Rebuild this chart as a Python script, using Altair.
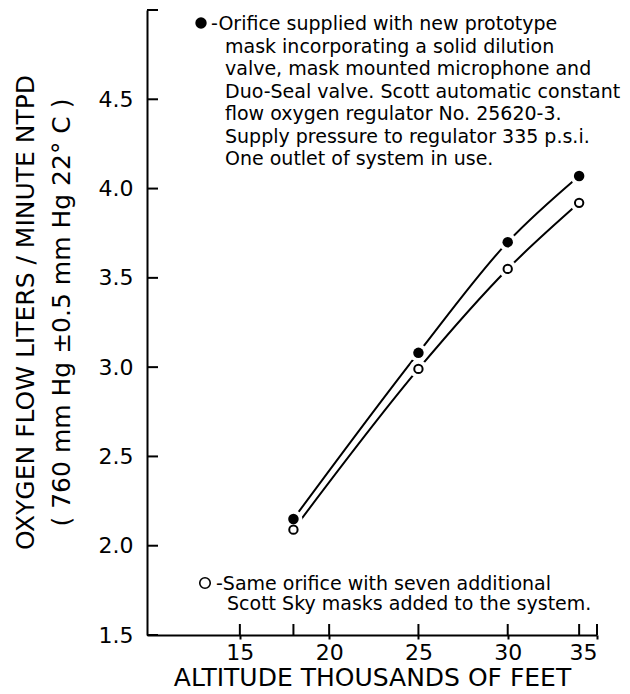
import altair as alt
import pandas as pd

# ---- data ----
altitude = [18, 25, 30, 34]
flow_new_mask = [2.15, 3.08, 3.70, 4.07]      # filled circles
flow_seven_masks = [2.09, 2.99, 3.55, 3.92]   # open circles

x_tick_values = [15, 20, 25, 30, 35]
x_inner_ticks = [15, 18, 20, 25, 30, 34, 35]
y_tick_values = [1.5, 2.0, 2.5, 3.0, 3.5, 4.0, 4.5]
y_inner_ticks = [1.5, 2.0, 2.5, 3.0, 3.5, 4.0, 4.5, 5.0]

x_title = "ALTITUDE THOUSANDS OF FEET"
y_title = ["OXYGEN FLOW LITERS / MINUTE NTPD", "( 760 mm Hg ±0.5 mm Hg 22° C )"]

note_top_first = "-Orifice supplied with new prototype"
note_top_rest = [
    "mask incorporating a solid dilution",
    "valve, mask mounted microphone and",
    "Duo-Seal valve. Scott automatic constant",
    "flow oxygen regulator No. 25620-3.",
    "Supply pressure to regulator 335 p.s.i.",
    "One outlet of system in use.",
]
note_bottom_first = "-Same orifice with seven additional"
note_bottom_rest = "Scott Sky masks added to the system."

# ---- layout ----
W, H = 450, 625
FONT = "DejaVu Sans"
TXT = 19

df = pd.DataFrame({
    "alt": altitude * 2,
    "flow": flow_new_mask + flow_seven_masks,
    "series": ["new"] * len(altitude) + ["seven"] * len(altitude),
})
df_new = df[df.series == "new"]
df_seven = df[df.series == "seven"]

xs = alt.Scale(domain=[9.8, 35], nice=False, zero=False)
ys = alt.Scale(domain=[1.5, 5.0], nice=False, zero=False)

x_axis = alt.Axis(
    values=x_tick_values, format="d", tickSize=4, tickWidth=2, tickColor="black",
    labelFontSize=22, labelFont=FONT, labelColor="black", labelPadding=3,
    title=x_title, titleFont=FONT, titleFontSize=25, titleFontWeight="normal",
    titleColor="black", titlePadding=2, grid=False,
    domainColor="black", domainWidth=2,
)
y_axis = alt.Axis(
    values=y_tick_values, format=".1f", ticks=False,
    labelFontSize=22, labelFont=FONT, labelColor="black", labelPadding=14,
    title=y_title, titleFont=FONT, titleFontSize=25, titleFontWeight="normal",
    titleColor="black", titleAngle=-90, titleX=-134, titleY=302,
    titleBaseline="top", titleAlign="center", titleLineHeight=36, grid=False,
    domainColor="black", domainWidth=2,
)

X = alt.X("alt:Q", scale=xs, axis=x_axis)
Y = alt.Y("flow:Q", scale=ys, axis=y_axis)

lines = alt.Chart(df).mark_line(interpolate="monotone", color="black", strokeWidth=2).encode(
    x=X, y=Y, detail="series:N",
)
halo = alt.Chart(df).mark_circle(size=330, color="white", opacity=1).encode(x=X, y=Y)
filled = alt.Chart(df_new).mark_circle(size=110, color="black", opacity=1).encode(x=X, y=Y)
hollow = alt.Chart(df_seven).mark_point(
    shape="circle", filled=True, fill="white", stroke="black", strokeWidth=2, size=70, opacity=1
).encode(x=X, y=Y)

y_ticks_in = alt.Chart(pd.DataFrame({"flow": y_inner_ticks})).mark_rule(color="black", strokeWidth=2).encode(
    y=Y, x=alt.value(0), x2=alt.value(11),
)
x_ticks_in = alt.Chart(pd.DataFrame({"alt": x_inner_ticks})).mark_rule(color="black", strokeWidth=2).encode(
    x=X, y=alt.value(H), y2=alt.value(H - 11),
)

one = pd.DataFrame({"k": [0]})

top_symbol = alt.Chart(one).mark_circle(size=130, color="black", opacity=1).encode(
    x=alt.value(54), y=alt.value(13))
top_first = alt.Chart(one).mark_text(
    text=note_top_first, font=FONT, fontSize=TXT, align="left", baseline="alphabetic", color="black"
).encode(x=alt.value(64), y=alt.value(20))
top_rest = alt.Chart(one).mark_text(
    text=note_top_rest, font=FONT, fontSize=TXT, align="left", baseline="alphabetic",
    lineHeight=22.5, color="black"
).encode(x=alt.value(78), y=alt.value(42.5))

bottom_symbol = alt.Chart(one).mark_point(
    shape="circle", filled=True, fill="white", stroke="black", strokeWidth=1.6, size=110, opacity=1
).encode(x=alt.value(58), y=alt.value(573))
bottom_first = alt.Chart(one).mark_text(
    text=note_bottom_first, font=FONT, fontSize=TXT, align="left", baseline="alphabetic", color="black"
).encode(x=alt.value(69), y=alt.value(580))
bottom_rest = alt.Chart(one).mark_text(
    text=note_bottom_rest, font=FONT, fontSize=TXT, align="left", baseline="alphabetic", color="black"
).encode(x=alt.value(80), y=alt.value(600))

chart = alt.layer(
    lines, halo, filled, hollow, y_ticks_in, x_ticks_in,
    top_symbol, top_first, top_rest, bottom_symbol, bottom_first, bottom_rest,
).properties(
    width=W, height=H,
    autosize=alt.AutoSizeParams(type="none"),
    padding={"left": 147, "top": 10, "right": 33, "bottom": 59},
    background="white",
).configure_view(stroke=None)

chart.save("out.html", embed_options={"renderer": "svg", "actions": False})
